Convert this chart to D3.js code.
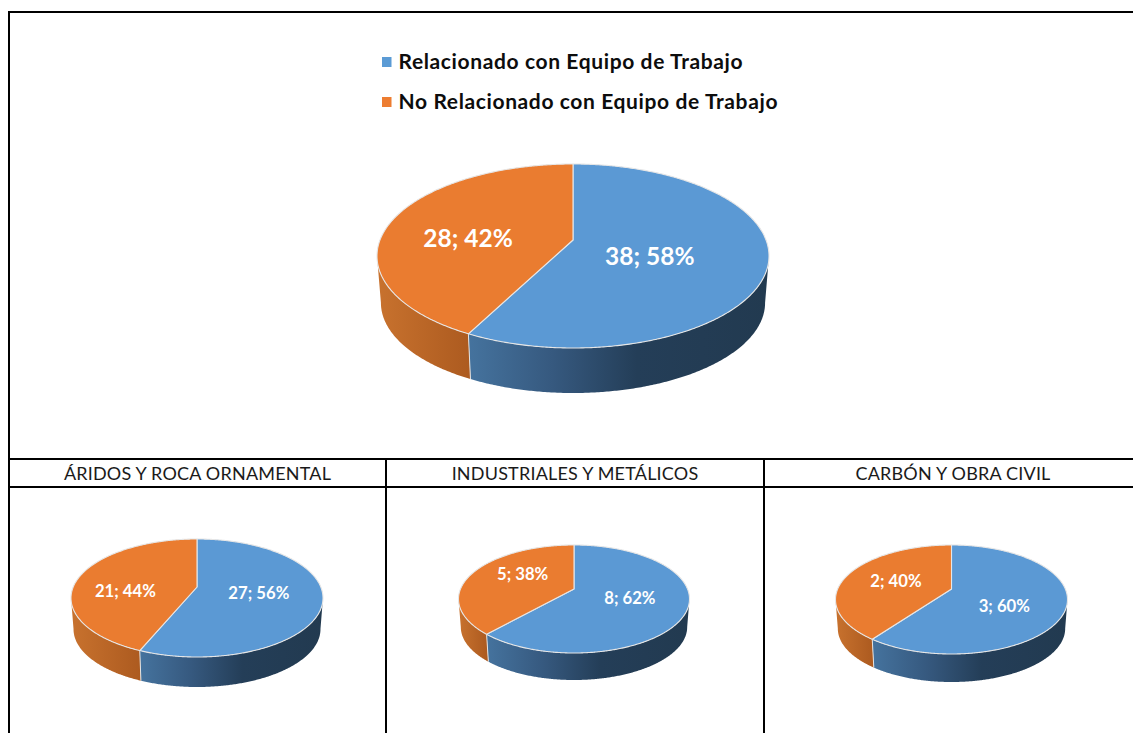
<!DOCTYPE html>
<html><head><meta charset="utf-8">
<script src="https://cdn.jsdelivr.net/npm/d3@7/dist/d3.min.js"></script>
<style>html,body{margin:0;padding:0;background:#fff;overflow:hidden}svg{display:block}text{font-family:Lato,Carlito,sans-serif}</style>
</head><body><svg id="c" width="1133" height="733"></svg>
<script>
// ---- data ----
const seriesNames = ["Relacionado con Equipo de Trabajo", "No Relacionado con Equipo de Trabajo"];
const seriesColors = ["#5b99d4", "#ea7c30"];
const legendColors = ["#5b9bd5", "#ed7d31"];
const panelTitles = ["ÁRIDOS Y ROCA ORNAMENTAL", "INDUSTRIALES Y METÁLICOS", "CARBÓN Y OBRA CIVIL"];
const totalValues = [38, 28];
const aridosValues = [27, 21];
const industrialesValues = [8, 5];
const carbonValues = [3, 2];
const totalPercents = [58, 42];
const aridosPercents = [56, 44];
const industrialesPercents = [62, 38];
const carbonPercents = [60, 40];

// ---- layout ----
const pies = [
  {v: totalValues, p: totalPercents, cx: 573, top: 164, bottom: 348, apex: 240, rx: 196, floor: 393, fs: 24.5, nudge: [[-19, 6], [-13, 9]]},
  {v: aridosValues, p: aridosPercents, cx: 197, top: 539, bottom: 657, apex: 587, rx: 126, floor: 687, fs: 16.7, nudge: [[0, 0], [-12, 10]]},
  {v: industrialesValues, p: industrialesPercents, cx: 574, top: 545, bottom: 653, apex: 589, rx: 115.5, floor: 680, fs: 16.7, nudge: [[1, 0], [0, -6]]},
  {v: carbonValues, p: carbonPercents, cx: 951.5, top: 545, bottom: 654, apex: 589, rx: 116, floor: 682, fs: 16.7, nudge: [[-3, 9], [-3, 0]]}
];
const svg = d3.select("#c");
const defs = svg.append("defs");
const line = d3.line();
const pieGen = d3.pie().sort(null);

pies.forEach((P, pi) => {
  const up = P.apex - P.top, dn = P.bottom - P.apex;
  const k = (dn - up) / (dn + up), B = up * (1 + k), A = P.rx * Math.sqrt(1 - k * k);
  const proj = (a, r = 1) => {
    const u = r * Math.sin(a), v = -r * Math.cos(a), w = 1 - k * v;
    return [P.cx + A * u / w, P.apex + B * v / w];
  };
  const ecy = (P.top + P.bottom) / 2, s = 0.98;
  const d = P.floor - (ecy + s * (P.bottom - ecy));
  const base = ([x, y]) => [P.cx + s * (x - P.cx), ecy + s * (y - ecy) + d];
  const step = Math.PI / 360;
  const arcAngles = (a0, a1) => { const r = d3.range(a0, a1, step); r.push(a1); return r; };
  const all = arcAngles(0, 2 * Math.PI);
  const aR = all[d3.greatestIndex(all, a => proj(a)[0])];
  const aL = all[d3.leastIndex(all, a => proj(a)[0])];
  const arcs = pieGen(P.v);
  const seamA = arcs[0].endAngle, seamX = proj(seamA)[0];

  const gb = defs.append("linearGradient").attr("id", "wb" + pi).attr("gradientUnits", "userSpaceOnUse")
    .attr("x1", seamX).attr("x2", P.cx + P.rx).attr("y1", 0).attr("y2", 0);
  [[0, "#45739e"], [0.28, "#36597f"], [0.56, "#243e58"], [1, "#223a50"]].forEach(([o, c]) => gb.append("stop").attr("offset", o).attr("stop-color", c));
  const go = defs.append("linearGradient").attr("id", "wo" + pi).attr("gradientUnits", "userSpaceOnUse")
    .attr("x1", P.cx - P.rx).attr("x2", seamX).attr("y1", 0).attr("y2", 0);
  [[0, "#c8722e"], [1, "#ad5b20"]].forEach(([o, c]) => go.append("stop").attr("offset", o).attr("stop-color", c));

  const g = svg.append("g");
  arcs.forEach((a, i) => {
    const from = Math.max(a.startAngle, aR), to = Math.min(a.endAngle, aL);
    const ang = arcAngles(from, to);
    const topPts = ang.map(t => proj(t));
    const basePts = topPts.map(base).reverse();
    g.append("path").attr("d", line(topPts.concat(basePts)) + "Z")
      .attr("fill", `url(#${i === 0 ? "wb" : "wo"}${pi})`);
  });
  g.append("path").attr("d", line([proj(seamA), base(proj(seamA))]))
    .attr("stroke", "#e3e3e3").attr("stroke-width", 1).attr("fill", "none");
  arcs.forEach((a, i) => {
    const pts = [[P.cx, P.apex]].concat(arcAngles(a.startAngle, a.endAngle).map(t => proj(t)));
    g.append("path").attr("d", line(pts) + "Z").attr("fill", seriesColors[i])
      .attr("stroke", "#e6e6e6").attr("stroke-width", 1.1).attr("stroke-linejoin", "round");
  });
  arcs.forEach((a, i) => {
    const c = proj((a.startAngle + a.endAngle) / 2, 0.5);
    g.append("text").attr("x", c[0] + P.nudge[i][0]).attr("y", c[1] + P.nudge[i][1])
      .attr("dy", "0.35em").attr("text-anchor", "middle").attr("fill", "#fff")
      .attr("font-weight", 700).attr("font-size", P.fs).text(`${a.value}; ${P.p[i]}%`);
  });
});

// table rules
const rule = (x1, y1, x2, y2) => svg.append("line").attr("x1", x1).attr("y1", y1).attr("x2", x2).attr("y2", y2)
  .attr("stroke", "#000").attr("stroke-width", 2);
rule(8, 12, 1133, 12); rule(9, 12, 9, 733);
rule(9, 459, 1133, 459); rule(9, 487, 1133, 487);
rule(386, 459, 386, 733); rule(764, 459, 764, 733);

// panel headers
const headerX = [197.5, 575, 953];
panelTitles.forEach((t, i) => svg.append("text").attr("x", headerX[i]).attr("y", 480).attr("text-anchor", "middle")
  .attr("font-size", 18).attr("letter-spacing", 0.2).attr("fill", "#1a1a1a").text(t));

// legend
seriesNames.forEach((t, i) => {
  svg.append("rect").attr("x", 382).attr("y", 57 + i * 40).attr("width", 9.5).attr("height", 10).attr("fill", legendColors[i]);
  svg.append("text").attr("x", 398.5).attr("y", 69 + i * 40).attr("font-size", 21).attr("letter-spacing", 0.62).attr("font-weight", 700).attr("fill", "#0d0d0d").text(t);
});

// title, cut off by the page top: only descenders show
svg.append("text").attr("x", 776).attr("y", -4).attr("font-size", 23.5).attr("letter-spacing", 0.62).attr("font-weight", 700).attr("fill", "#000").text("Equipo de Trabajo");
</script></body></html>
